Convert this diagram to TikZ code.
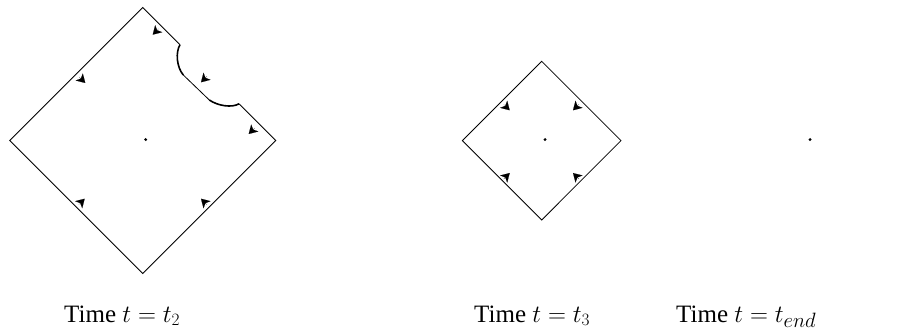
\documentclass[tikz,border=0pt]{standalone}
\usepackage[no-math]{fontspec}
\setmainfont{Liberation Serif}
\usetikzlibrary{arrows.meta}
\tikzset{
  edge/.style={line width=0.8pt, line join=miter},
  bite/.style={line width=1.6pt},
  arr/.style={-{Stealth[length=8.5pt,width=10pt,inset=2.2pt]}, line width=0.1pt},
  cdot/.style={fill, circle, inner sep=0pt, minimum size=3.2pt},
  lbl/.style={anchor=base west, font=\fontsize{25}{30}\selectfont, inner sep=0pt}
}
\begin{document}
\begin{tikzpicture}[x=1pt,y=-1pt]
\useasboundingbox (0,0) rectangle (908,334);
% ---------- diamond 1 (t2) ----------
\coordinate (T1) at (142.7,7.5);
\coordinate (R1) at (275.7,140.5);
\coordinate (B1) at (142.7,273.5);
\coordinate (L1) at (9.7,140.5);
\coordinate (A1) at (180,44.8);
\coordinate (A2) at (183.3,75);
\coordinate (A3) at (209.3,100);
\coordinate (A4) at (239,103.8);
\draw[edge] (A4) -- (R1) -- (B1) -- (L1) -- (T1) -- (A1);
\draw[edge] (A2) -- (A3);
\draw[bite] (A1) .. controls (175.5,52) and (176.5,67) .. (A2);
\draw[bite] (A3) .. controls (218,106) and (232,108) .. (A4);
\node[cdot] (c1) at (145.7,139.6) {};
\draw[arr] (82.3,80) ++(-3,-3) -- ++(6,6);
\draw[arr] (81.7,201.7) ++(-3,3) -- ++(6,-6);
\draw[arr] (204,201.7) ++(3,3) -- ++(-6,-6);
\draw[arr] (155.7,31.7) ++(3,-3) -- ++(-6,6);
\draw[arr] (204,79.3) ++(3,-3) -- ++(-6,6);
\draw[arr] (251.7,131) ++(3,-3) -- ++(-6,6);
% ---------- diamond 2 (t3) ----------
\coordinate (T2) at (541.7,61.3);
\coordinate (R2) at (621,140.6);
\coordinate (B2) at (541.7,220);
\coordinate (L2) at (462.4,140.6);
\draw[edge] (T2) -- (R2) -- (B2) -- (L2) -- cycle;
\node[cdot] (c2) at (545,139.6) {};
\draw[arr] (506.7,107.3) ++(-3,-3) -- ++(6,6);
\draw[arr] (576,107.3) ++(3,-3) -- ++(-6,6);
\draw[arr] (506.7,176) ++(-3,3) -- ++(6,-6);
\draw[arr] (576,176) ++(3,3) -- ++(-6,-6);
% ---------- point (t_end) ----------
\node[cdot] (c3) at (810,139.6) {};
% ---------- labels ----------
\node[lbl] (l1) at (64,322) {Time $t=t_2$};
\node[lbl] (l2) at (474,322) {Time $t=t_3$};
\node[lbl] (l3) at (676,322) {Time $t=t_{\hbox{\fontsize{22}{24}\selectfont$end$}}$};
\end{tikzpicture}
\end{document}
